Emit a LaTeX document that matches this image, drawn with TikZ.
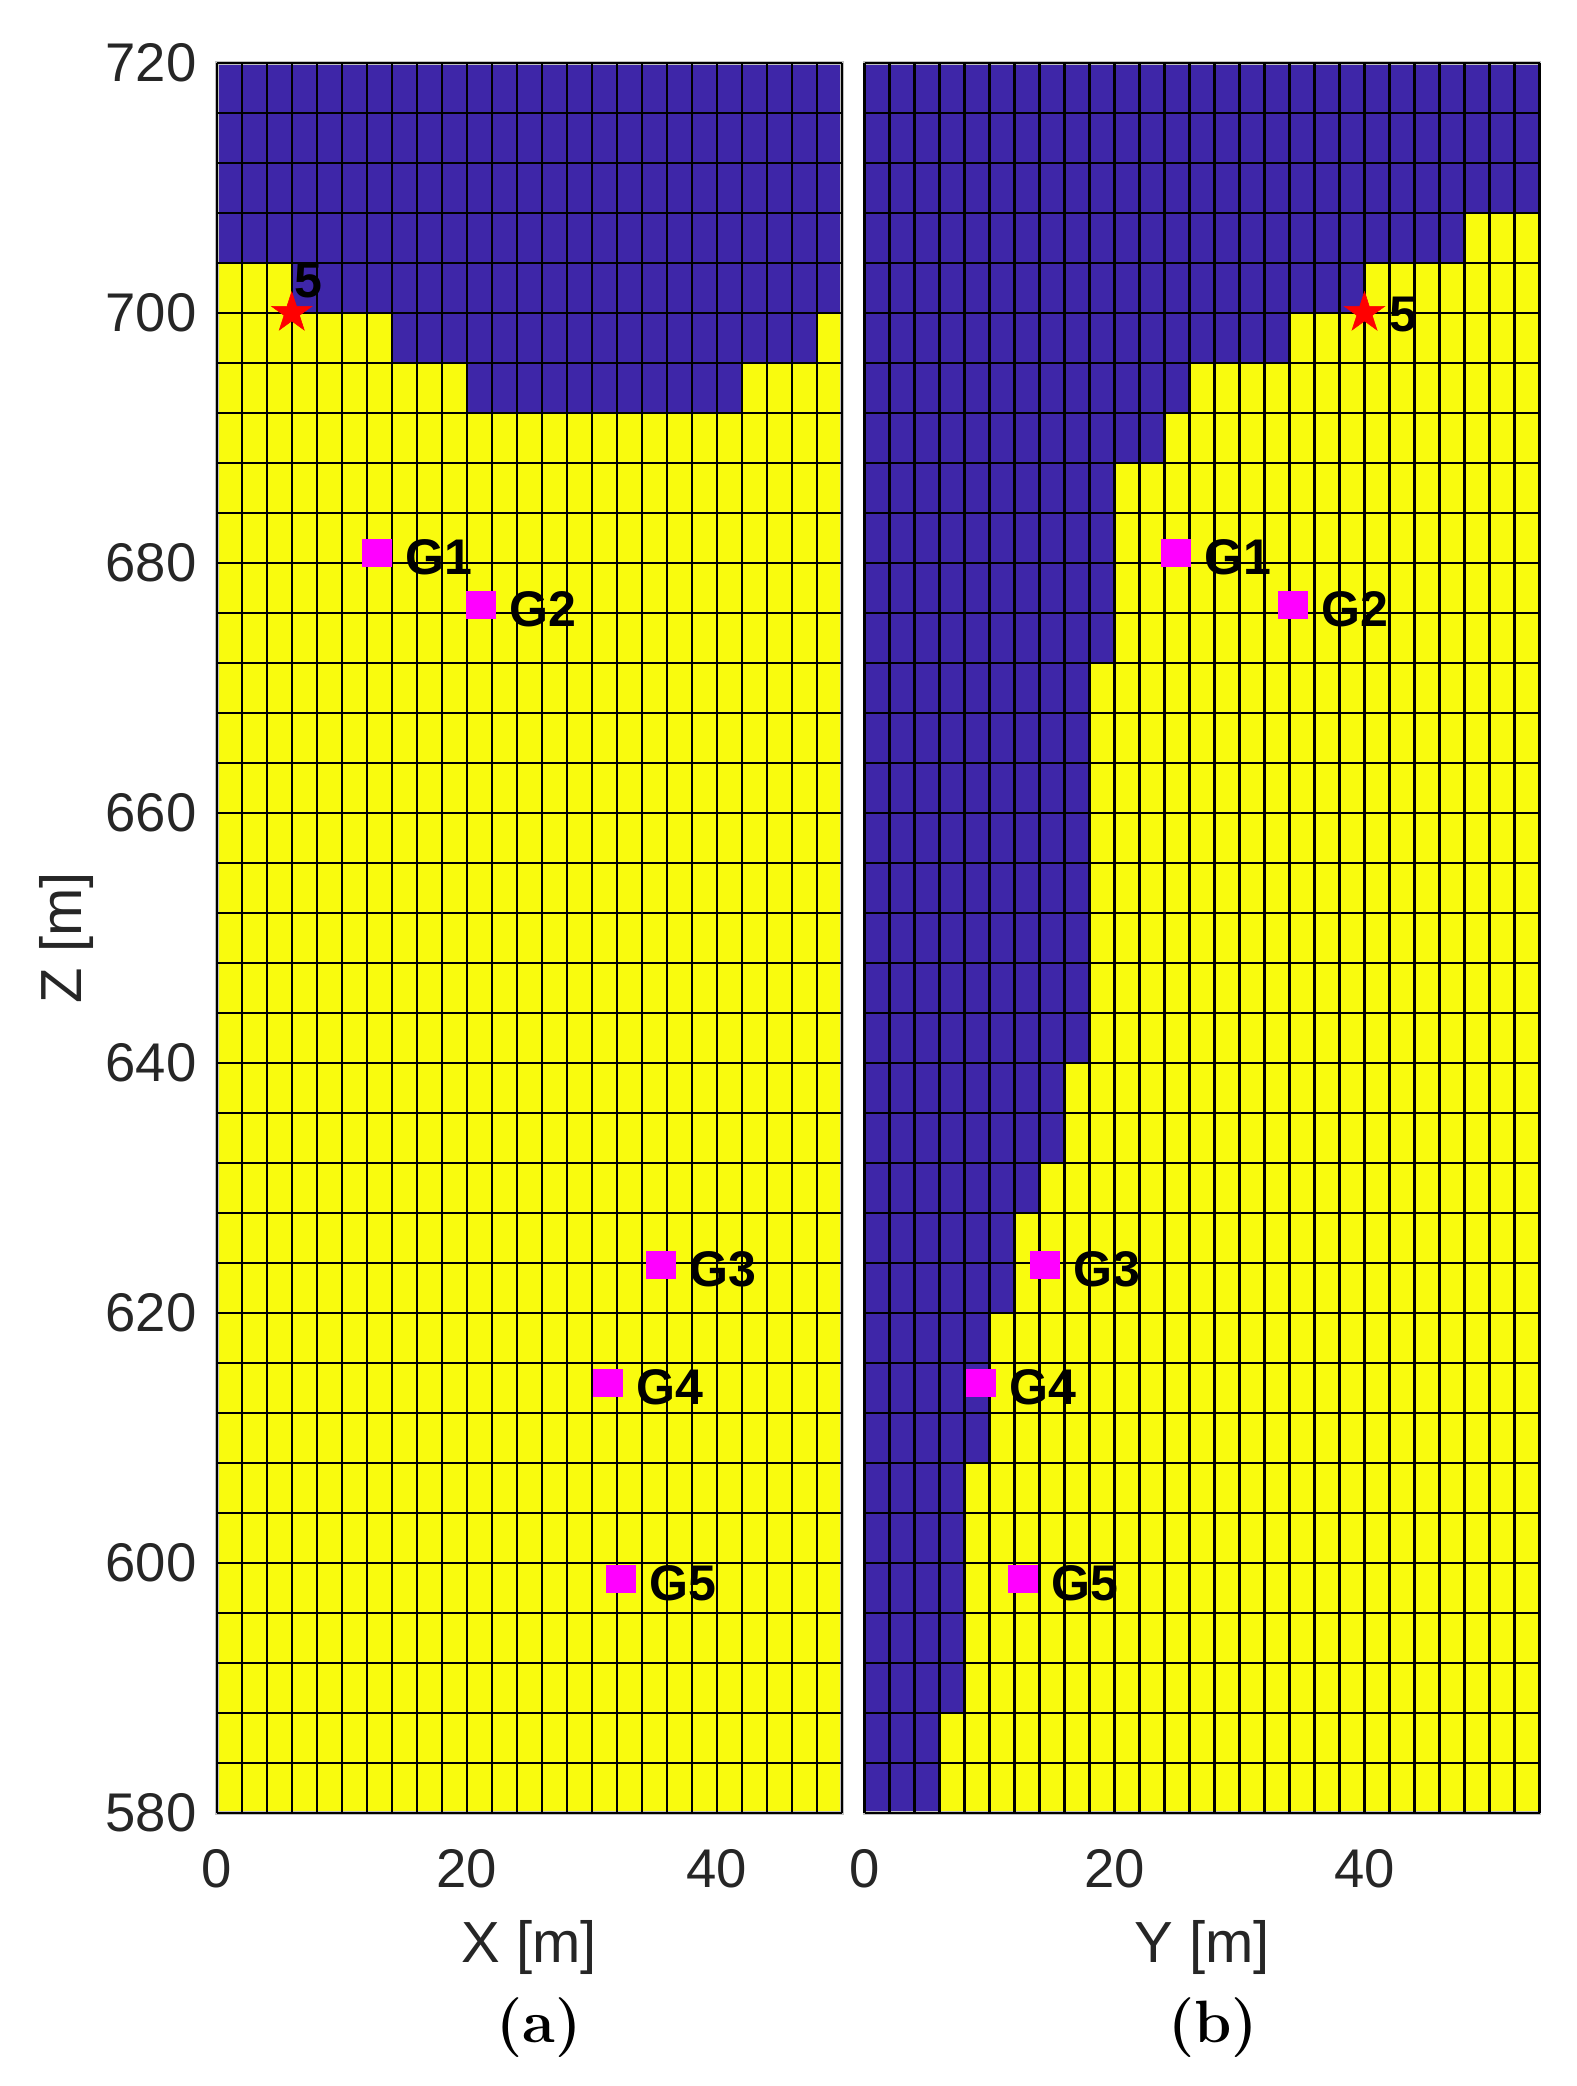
\documentclass[tikz,border=0pt]{standalone}
\usepackage{fontspec}
\setsansfont{Liberation Sans}
\usetikzlibrary{positioning,shapes.geometric}
\definecolor{mdlBlue}{RGB}{62,38,168}
\definecolor{mdlYellow}{RGB}{249,251,14}
\definecolor{tickGray}{RGB}{38,38,38}
\definecolor{rcvMagenta}{RGB}{255,0,255}
\definecolor{srcRed}{RGB}{255,0,0}

\begin{document}
\begin{tikzpicture}[x=0.25cm,y=0.25cm,
    tick/.style={font=\sffamily\fontsize{31}{31}\selectfont,text=tickGray,inner sep=0pt},
    axlab/.style={font=\sffamily\fontsize{33}{33}\selectfont,text=tickGray,inner sep=0pt},
    gl/.style={font=\sffamily\bfseries\fontsize{28.5}{28.5}\selectfont,inner sep=0pt},
    rcv/.style={fill=rcvMagenta,minimum width=0.6cm,minimum height=0.56cm,inner sep=0pt},
    src/.style={star,star points=5,star point ratio=2.618,fill=srcRed,draw=srcRed,
                line width=0.3pt,minimum size=0.85cm,inner sep=0pt},
    panelcap/.style={font=\bfseries\fontsize{34}{34}\selectfont,inner sep=0pt},
    frame/.style={gray!50,line width=2pt},
    cellgrid/.style={black,line width=1.35pt}]
  \useasboundingbox (-17.34,558.16) rectangle (108.74,725.04);
  % (a) X-Z section
  \fill[mdlYellow] (0,580) rectangle (50,720);
  \fill[mdlBlue] (0,720) -- (50,720) -- (50,700) -- (48,700) -- (48,696) -- (42,696)
    -- (42,692) -- (20,692) -- (20,696) -- (14,696) -- (14,700) -- (6,700) -- (6,704)
    -- (0,704) -- cycle;
  \draw[frame] (0,580) rectangle (50,720);
  \foreach \x in {0,2,...,50}
    \draw[cellgrid] (\x,580) -- (\x,720);
  \foreach \z in {580,584,...,720}
    \draw[cellgrid] (0,\z) -- (50,\z);
  \foreach \z in {580,600,...,720}
    \node[tick,anchor=east] (zt\z) at (-1.6,\z) {\z};
  \foreach \x in {0,20,40}
    \node[tick] (xt\x) at (\x,575.55) {\x};
  \node[axlab,rotate=90] (zlab) at (-12,650) {Z [m]};
  \node[axlab] (xlab) at (25,569.2) {X [m]};
  \node[panelcap] (capa) at (25.8,562.8) {(a)};
  \node[src] (s5a) at (6,700) {};
  \node[gl] (l5a) at (7.3,702.6) {5};
  \node[rcv] (g1a) at (12.8,680.8) {};
  \node[rcv] (g2a) at (21.1,676.6) {};
  \node[rcv] (g3a) at (35.5,623.8) {};
  \node[rcv] (g4a) at (31.3,614.4) {};
  \node[rcv] (g5a) at (32.3,598.7) {};
  \foreach \g in {1,...,5}
    \node[gl,right=0.26cm of g\g a,yshift=-0.08cm] (t\g a) {G\g};
  % (b) Y-Z section
  \begin{scope}[shift={(51.82,0)}]
    \fill[mdlYellow] (0,580) rectangle (54,720);
    \fill[mdlBlue] (0,720) -- (54,720) -- (54,708) -- (48,708) -- (48,704) -- (40,704)
      -- (40,700) -- (34,700) -- (34,696) -- (26,696) -- (26,692) -- (24,692)
      -- (24,688) -- (20,688) -- (20,672) -- (18,672) -- (18,640) -- (16,640)
      -- (16,632) -- (14,632) -- (14,628) -- (12,628) -- (12,620) -- (10,620)
      -- (10,608) -- (8,608) -- (8,588) -- (6,588) -- (6,580) -- (0,580) -- cycle;
    \draw[frame] (0,580) rectangle (54,720);
    \foreach \x in {0,2,...,54}
      \draw[cellgrid] (\x,580) -- (\x,720);
    \foreach \z in {580,584,...,720}
      \draw[cellgrid] (0,\z) -- (54,\z);
    \foreach \x in {0,20,40}
      \node[tick] (yt\x) at (\x,575.55) {\x};
    \node[axlab] (ylab) at (27,569.2) {Y [m]};
    \node[panelcap] (capb) at (27.9,562.8) {(b)};
    \node[src] (s5b) at (40,700) {};
    \node[gl] (l5b) at (43.1,699.9) {5};
    \node[rcv] (g1b) at (24.9,680.8) {};
    \node[rcv] (g2b) at (34.3,676.6) {};
    \node[rcv] (g3b) at (14.4,623.8) {};
    \node[rcv] (g4b) at (9.3,614.4) {};
    \node[rcv] (g5b) at (12.7,598.7) {};
    \foreach \g in {1,...,5}
      \node[gl,right=0.26cm of g\g b,yshift=-0.08cm] (t\g b) {G\g};
  \end{scope}
\end{tikzpicture}
\end{document}
